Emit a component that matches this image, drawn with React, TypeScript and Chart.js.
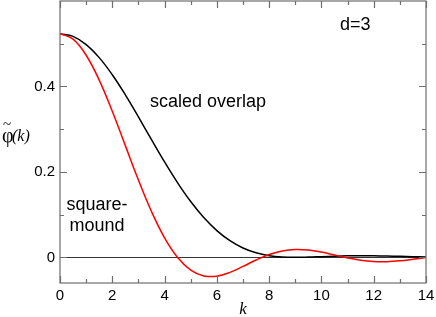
import React, { useEffect, useRef } from "react";
import { Chart, registerables } from "chart.js";

Chart.register(...registerables);

// wave number k
const kValues = [
  0, 0.5, 1, 1.5, 2, 2.5, 3, 3.5, 4, 4.5, 5, 5.5, 6, 6.5, 7,
  7.5, 8, 8.5, 9, 9.5, 10, 10.5, 11, 11.5, 12, 12.5, 13, 13.5, 14,
];
// black curve: scaled overlap
const scaledOverlap = [
  0.5236, 0.51709, 0.49797, 0.46746, 0.42743, 0.38028, 0.32872, 0.27552,
  0.22333, 0.17443, 0.13062, 0.09312, 0.06257, 0.039, 0.02196, 0.01064,
  0.00397, 0.0008, 0.0, 0.00057, 0.0017, 0.00283, 0.00361, 0.00389,
  0.00369, 0.00312, 0.00235, 0.00155, 0.00086,
];
// red curve: square-mound
const squareMound = [
  0.5236, 0.51063, 0.47308, 0.41487, 0.34196, 0.26152, 0.181, 0.10723,
  0.0456, -0.0005, -0.02987, -0.04346, -0.04393, -0.03508, -0.02116,
  -0.00619, 0.00661, 0.01513, 0.01856, 0.01722, 0.01233, 0.00558,
  -0.00124, -0.00664, -0.00969, -0.01008, -0.00813, -0.00461, -0.00053,
];

const xMajorTicks = [0, 2, 4, 6, 8, 10, 12, 14];
const xMinorTicks = [1, 3, 5, 7, 9, 11, 13];
const yMajorTicks = [0, 0.2, 0.4];
const yMinorTicks = [0.1, 0.3, 0.5];

const SANS = "'Liberation Sans', Arial, Helvetica, sans-serif";
const SERIF = "'Liberation Serif', 'Times New Roman', serif";

export default function App() {
  const ref = useRef<HTMLCanvasElement>(null);

  useEffect(() => {
    const canvas = ref.current;
    if (!canvas) return;

    const framePlugin = {
      id: "frameAndText",
      beforeDatasetsDraw(chart: any) {
        const { ctx, chartArea, scales } = chart;
        const y0 = Math.round(scales.y.getPixelForValue(0)) + 0.5;
        ctx.save();
        ctx.strokeStyle = "#333";
        ctx.lineWidth = 1.2;
        ctx.beginPath();
        ctx.moveTo(chartArea.left, y0);
        ctx.lineTo(chartArea.right, y0);
        ctx.stroke();
        ctx.restore();
      },
      afterDatasetsDraw(chart: any) {
        const { ctx, chartArea, scales } = chart;
        const { left, right, top, bottom } = chartArea;
        ctx.save();
        ctx.strokeStyle = "#6e6e6e";
        ctx.lineWidth = 1.2;
        ctx.strokeRect(left, top, right - left, bottom - top);
        const major = 7;
        const minor = 4;
        ctx.beginPath();
        const xt = (v: number, len: number) => {
          const px = Math.round(scales.x.getPixelForValue(v)) + 0.5;
          ctx.moveTo(px, bottom);
          ctx.lineTo(px, bottom - len);
          ctx.moveTo(px, top);
          ctx.lineTo(px, top + len);
        };
        const yt = (v: number, len: number) => {
          const py = Math.round(scales.y.getPixelForValue(v)) + 0.5;
          ctx.moveTo(left, py);
          ctx.lineTo(left + len, py);
          ctx.moveTo(right, py);
          ctx.lineTo(right - len, py);
        };
        xMajorTicks.forEach((v) => xt(v, major));
        xMinorTicks.forEach((v) => xt(v, minor));
        yMajorTicks.forEach((v) => yt(v, major));
        yMinorTicks.forEach((v) => yt(v, minor));
        ctx.stroke();
        ctx.restore();
      },
      afterDraw(chart: any) {
        const { ctx, chartArea, scales } = chart;
        const px = (v: number) => scales.x.getPixelForValue(v);
        const py = (v: number) => scales.y.getPixelForValue(v);
        ctx.save();
        ctx.fillStyle = "#000";
        ctx.textBaseline = "alphabetic";
        ctx.font = `18px ${SANS}`;
        ctx.textAlign = "left";
        ctx.fillText("d=3", px(10.71), py(0.5327));
        ctx.fillText("scaled overlap", px(3.44), py(0.3525));
        ctx.textAlign = "center";
        ctx.fillText("square-", px(1.415), py(0.11));
        ctx.fillText("mound", px(1.415), py(0.061));

        // x axis title
        ctx.font = `italic 17px ${SERIF}`;
        ctx.textAlign = "center";
        ctx.fillText("k", (chartArea.left + chartArea.right) / 2, 314);

        // y axis title: phi with tilde, (k)
        ctx.textAlign = "left";
        ctx.font = `20px ${SERIF}`;
        ctx.fillText("\u03c6", 2, 142);
        ctx.font = `15px ${SERIF}`;
        ctx.fillText("~", 3, 129);
        ctx.font = `italic 16px ${SERIF}`;
        ctx.fillText("(k)", 12, 141);
        ctx.restore();
      },
    };

    const chart = new Chart(canvas, {
      type: "line",
      data: {
        datasets: [
          {
            label: "square-mound",
            data: kValues.map((k, i) => ({ x: k, y: squareMound[i] })),
            borderColor: "#ff0000",
            borderWidth: 1.5,
            pointRadius: 0,
            tension: 0.4,
            fill: false,
          },
          {
            label: "scaled overlap",
            data: kValues.map((k, i) => ({ x: k, y: scaledOverlap[i] })),
            borderColor: "#000000",
            borderWidth: 1.5,
            pointRadius: 0,
            tension: 0.4,
            fill: false,
          },
        ],
      },
      options: {
        responsive: false,
        animation: false,
        devicePixelRatio: 1,
        layout: { padding: { left: 0, right: 10, top: 1, bottom: 0 } },
        plugins: {
          legend: { display: false },
          tooltip: { enabled: false },
        },
        scales: {
          x: {
            type: "linear",
            min: 0,
            max: 14,
            afterBuildTicks: (s: any) => {
              s.ticks = xMajorTicks.map((v) => ({ value: v }));
            },
            afterFit: (s: any) => {
              s.height = 34;
              s.paddingLeft = 0;
              s.paddingRight = 0;
            },
            grid: { display: false, drawTicks: false },
            border: { display: false },
            ticks: {
              padding: 4,
              color: "#000",
              autoSkip: false,
              maxRotation: 0,
              font: { family: SANS, size: 15 },
              callback: (v: any) => String(v),
            },
          },
          y: {
            type: "linear",
            min: -0.06,
            max: 0.6,
            afterBuildTicks: (s: any) => {
              s.ticks = yMajorTicks.map((v) => ({ value: v }));
            },
            afterFit: (s: any) => {
              s.width = 60;
              s.paddingTop = 0;
              s.paddingBottom = 0;
            },
            grid: { display: false, drawTicks: false },
            border: { display: false },
            ticks: {
              padding: 5,
              color: "#000",
              autoSkip: false,
              font: { family: SANS, size: 15 },
              callback: (v: any) => (Number(v) === 0 ? "0" : Number(v).toFixed(1)),
            },
          },
        },
      },
      plugins: [framePlugin],
    });

    return () => chart.destroy();
  }, []);

  return (
    <div
      style={{
        position: "fixed",
        left: 0,
        top: 0,
        width: 436,
        height: 317,
        background: "#fff",
      }}
    >
      <canvas ref={ref} width={436} height={317} style={{ display: "block" }} />
    </div>
  );
}
